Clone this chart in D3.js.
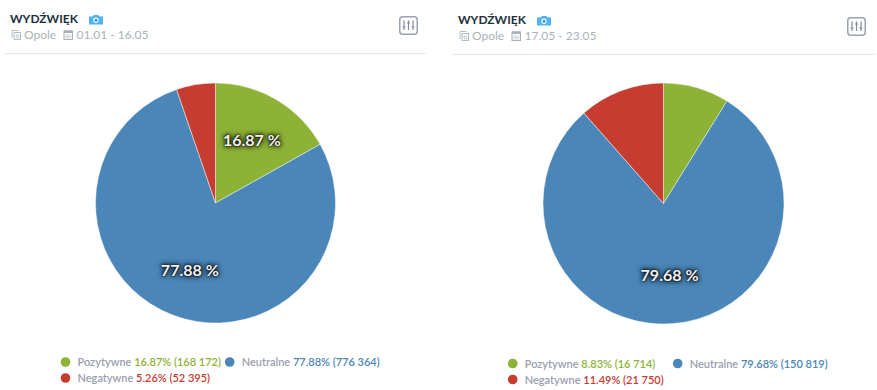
<!DOCTYPE html>
<html>
<head>
<meta charset="utf-8">
<script src="https://cdn.jsdelivr.net/npm/d3@7"></script>
<style>
  html, body { margin: 0; padding: 0; background: #fff; }
  svg { display: block; font-family: Lato, "Open Sans", sans-serif; }
  .pie-label { text-shadow: 0 0 2px #000, 0 0 4px #000, 0 0 6px #000; }
</style>
</head>
<body>
<svg id="chart"></svg>
<script>
const width = 877;
const height = 390;

const categories = ['Pozytywne', 'Neutralne', 'Negatywne'];
const colors = ['#8eb236', '#4a86b8', '#c73c30'];

const titles = ['WYDŹWIĘK', 'WYDŹWIĘK'];
const places = ['Opole', 'Opole'];
const dates = ['01.01 - 16.05', '17.05 - 23.05'];

const countsA = [168172, 776364, 52395];
const countsB = [16714, 150819, 21750];
const percentsA = [16.87, 77.88, 5.26];
const percentsB = [8.83, 79.68, 11.49];

// panel placement
const layouts = [
  {
    cx: 215.5, cy: 203, r: 120, titleX: 10, titleY: 23, ruleY: 53.5, ruleX: [5, 426], gearX: 399, gearY: 16,
    legendDots: [[65.5, 362], [229.7, 362], [65.5, 378]],
  },
  {
    cx: 663.5, cy: 203.5, r: 120.5, titleX: 458, titleY: 24, ruleY: 54.5, ruleX: [452, 875], gearX: 847, gearY: 17,
    legendDots: [[512.7, 363.5], [677.7, 363.5], [512.7, 379.5]],
  },
];

const svg = d3.select('svg#chart')
  .attr('width', width)
  .attr('height', height)
  .attr('viewBox', [0, 0, width, height]);

const formatCount = (n) => d3.format(',')(n).replace(/,/g, ' ');

const pie = d3.pie().sort(null).startAngle(0).endAngle(2 * Math.PI);

function drawHeader(g, i, layout) {
  const { titleX: x, titleY: y } = layout;

  g.append('text')
    .attr('x', x)
    .attr('y', y)
    .attr('font-size', 12)
    .attr('font-weight', 700)
    .attr('fill', '#22303c')
    .text(titles[i]);

  // camera icon
  const cam = g.append('g').attr('transform', `translate(${x + 79},${y - 8})`);
  cam.append('path')
    .attr('d', 'M0 1.5H3.5L4.8 0H9.2L10.5 1.5H14V9.5H0Z')
    .attr('fill', '#4db3f2');
  cam.append('circle').attr('cx', 7).attr('cy', 5.3).attr('r', 2.7)
    .attr('fill', '#fff');
  cam.append('circle').attr('cx', 7).attr('cy', 5.3).attr('r', 1.5)
    .attr('fill', '#3a8fd0');

  // place icon
  const sub = y + 16;
  const place = g.append('g')
    .attr('transform', `translate(${x + 1.5},${sub - 9})`)
    .attr('fill', 'none')
    .attr('stroke', '#b5bcc4')
    .attr('stroke-width', 1);
  place.append('path').attr('d', 'M0.5 8V0.5H7');
  place.append('rect').attr('x', 2.5).attr('y', 2.5).attr('width', 6.5).attr('height', 7);
  place.append('circle').attr('cx', 6).attr('cy', 6.5).attr('r', 1.5);

  g.append('text')
    .attr('x', x + 14)
    .attr('y', sub)
    .attr('font-size', 12)
    .attr('fill', '#aab2ba')
    .text(places[i]);

  // calendar icon
  const cal = g.append('g')
    .attr('transform', `translate(${x + 53.5},${sub - 9})`);
  cal.append('rect').attr('x', 0.5).attr('y', 1).attr('width', 8.5).attr('height', 8.5)
    .attr('fill', 'none').attr('stroke', '#a8b0b8');
  cal.append('rect').attr('x', 0.5).attr('y', 0.5).attr('width', 8.5).attr('height', 2.5)
    .attr('fill', '#a8b0b8');
  cal.append('path').attr('d', 'M2 5H8M2 6.5H8M2 8H8')
    .attr('stroke', '#b5bcc4').attr('stroke-dasharray', '1 0.6');

  g.append('text')
    .attr('x', x + 66.5)
    .attr('y', sub)
    .attr('font-size', 12)
    .attr('fill', '#aab2ba')
    .text(dates[i]);

  // settings button
  const btn = g.append('g')
    .attr('transform', `translate(${layout.gearX},${layout.gearY})`)
    .attr('fill', 'none')
    .attr('stroke', '#98a4b0');
  btn.append('rect')
    .attr('x', 0.75).attr('y', 0.75).attr('width', 17.5).attr('height', 17.5).attr('rx', 3)
    .attr('stroke-width', 1.5);
  btn.append('path')
    .attr('d', 'M5 4.5V14M9.5 4.5V14M14 4.5V14M3.5 11H6.5M8 7H11M12.5 11H15.5')
    .attr('stroke', '#7f8c99')
    .attr('stroke-width', 1.2);

  g.append('line')
    .attr('x1', layout.ruleX[0])
    .attr('x2', layout.ruleX[1])
    .attr('y1', layout.ruleY)
    .attr('y2', layout.ruleY)
    .attr('stroke', '#e6e8ea');
}

function drawPie(g, counts, percents, layout) {
  const arc = d3.arc().innerRadius(0).outerRadius(layout.r);
  const labelArc = d3.arc().innerRadius(layout.r * 0.6).outerRadius(layout.r * 0.6);
  const slices = pie(counts);

  const plot = g.append('g')
    .attr('transform', `translate(${layout.cx},${layout.cy})`);

  plot.selectAll('path')
    .data(slices)
    .join('path')
    .attr('d', arc)
    .attr('fill', (d, i) => colors[i])
    .attr('stroke', '#fff')
    .attr('stroke-opacity', 0.45)
    .attr('stroke-width', 1);

  // small slices have no label on the pie
  plot.selectAll('text')
    .data(slices.filter((d) => percents[d.index] > 15))
    .join('text')
    .attr('class', 'pie-label')
    .attr('transform', (d) => `translate(${labelArc.centroid(d)})`)
    .attr('text-anchor', 'middle')
    .attr('dy', '0.35em')
    .attr('font-size', 16)
    .attr('font-weight', 700)
    .attr('fill', '#f2f2f2')
    .text((d) => `${percents[d.index]} %`);
}

function drawLegend(g, counts, percents, layout) {
  const items = g.selectAll('g.legend-item')
    .data(categories)
    .join('g')
    .attr('class', 'legend-item')
    .attr('transform', (d, i) => `translate(${layout.legendDots[i]})`);

  items.append('circle')
    .attr('r', 4.8)
    .attr('fill', (d, i) => colors[i]);

  const label = items.append('text')
    .attr('x', 12)
    .attr('y', 4)
    .attr('font-size', 11)
    .attr('font-weight', 600);

  label.append('tspan')
    .attr('fill', '#9a9eae')
    .text((d) => `${d} `);

  label.append('tspan')
    .attr('fill', (d, i) => colors[i])
    .text((d, i) => `${percents[i].toFixed(2)}% (${formatCount(counts[i])})`);
}

[[countsA, percentsA], [countsB, percentsB]].forEach(([counts, percents], i) => {
  const g = svg.append('g');
  drawHeader(g, i, layouts[i]);
  drawPie(g, counts, percents, layouts[i]);
  drawLegend(g, counts, percents, layouts[i]);
});
</script>
</body>
</html>
